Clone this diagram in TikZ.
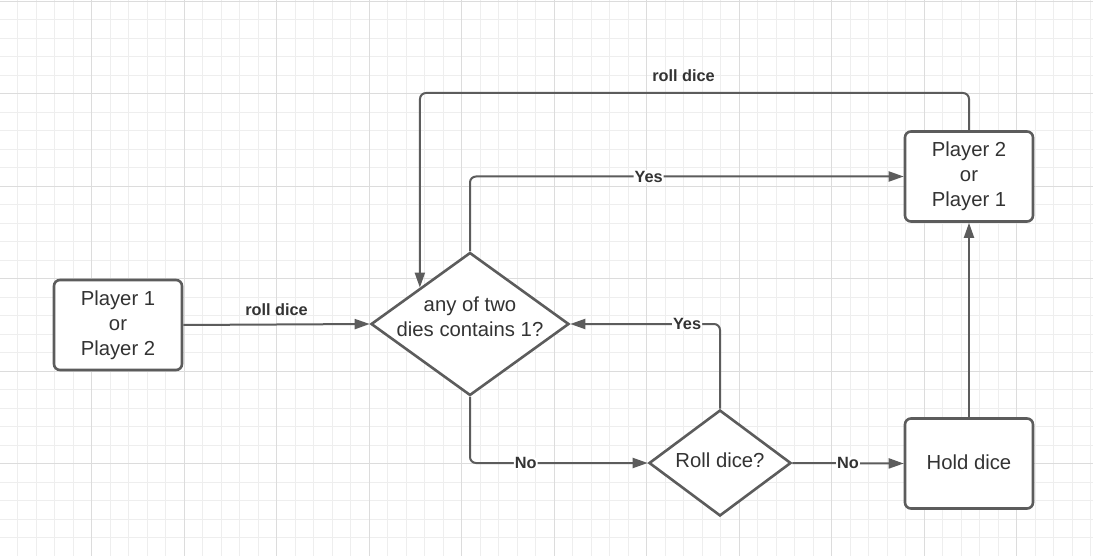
\documentclass[tikz,border=0pt]{standalone}
\usepackage{fontspec}
\setmainfont{Liberation Sans}
\usetikzlibrary{arrows.meta,shapes.geometric,calc}
\definecolor{ink}{HTML}{333333}
\definecolor{edge}{HTML}{5C5C5C}
\definecolor{gridminor}{HTML}{EEEEEE}
\definecolor{gridmajor}{HTML}{DCDCDC}

\begin{document}
\begin{tikzpicture}[x=1pt,y=-1pt,
  box/.style={draw=edge, line width=2.6pt, rounded corners=6pt, fill=white,
    minimum width=128pt, minimum height=90pt, inner sep=0pt, align=center,
    text=ink, font=\fontsize{20.3}{25}\selectfont},
  decision/.style={draw=edge, line width=2.6pt, diamond, fill=white, inner sep=0pt},
  txt/.style={text=ink, align=center, inner sep=0pt, font=\fontsize{20.3}{25}\selectfont},
  flow/.style={draw=edge, line width=2pt, rounded corners=6pt,
    -{Triangle[length=15pt,width=10pt]}},
  lbl/.style={text=ink, inner sep=1pt, font=\bfseries\fontsize{16.3}{18}\selectfont},
  onln/.style={lbl, fill=white},
]
% page and grid paper
\fill[white] (0,0) rectangle (1093,556);
\useasboundingbox (0,0) rectangle (1093,556);
\foreach \i in {0,...,59} {
  \draw[gridminor, line width=0.9pt] ({-1+18.5*\i},0) -- ({-1+18.5*\i},556);
}
\foreach \i in {0,...,30} {
  \draw[gridminor, line width=0.9pt] (0,{1+18.5*\i}) -- (1093,{1+18.5*\i});
}
\foreach \i in {0,...,12} {
  \draw[gridmajor, line width=0.9pt] ({-1+92.5*\i},0) -- ({-1+92.5*\i},556);
}
\foreach \i in {0,...,6} {
  \draw[gridmajor, line width=0.9pt] (0,{1+92.5*\i}) -- (1093,{1+92.5*\i});
}

% shapes
\node[box] (P1) at (118,325) {Player 1\\or\\Player 2};
\node[box] (P2) at (969,176.5) {Player 2\\or\\Player 1};
\node[box] (H) at (969,463.5) {\raisebox{3pt}{Hold dice}};
\node[decision, minimum width=198pt, minimum height=143pt] (D1) at (470,324) {};
\node[txt, yshift=7pt] (D1t) at (D1) {any of two\\dies contains 1?};
\node[decision, minimum width=142pt, minimum height=106pt] (D2) at (720,463) {};
\node[txt, yshift=2.5pt] (D2t) at (D2) {Roll dice?};

% connectors
\coordinate (loop) at (420,93);
\coordinate (D1nw) at ($(D1.west)!.5!(D1.north)$);

\draw[flow] (P1.east) -- node[lbl, above=7pt] {roll dice} (D1.west);
\draw[flow] (P2.north) |- node[lbl, pos=0.76, above=9pt] {roll dice} (loop) -- (D1nw);
\draw[flow] (D1.north) |- node[onln, pos=0.706] {Yes} (P2.west);
\draw[flow] (D1.south) |- node[onln, pos=0.657] {No} (D2.west);
\draw[flow] (D2.north) |- node[onln, pos=0.61] {Yes} (D1.east);
\draw[flow] (D2.east) -- node[onln] {No} (H.west);
\draw[flow] (H.north) -- (P2.south);
\end{tikzpicture}
\end{document}
